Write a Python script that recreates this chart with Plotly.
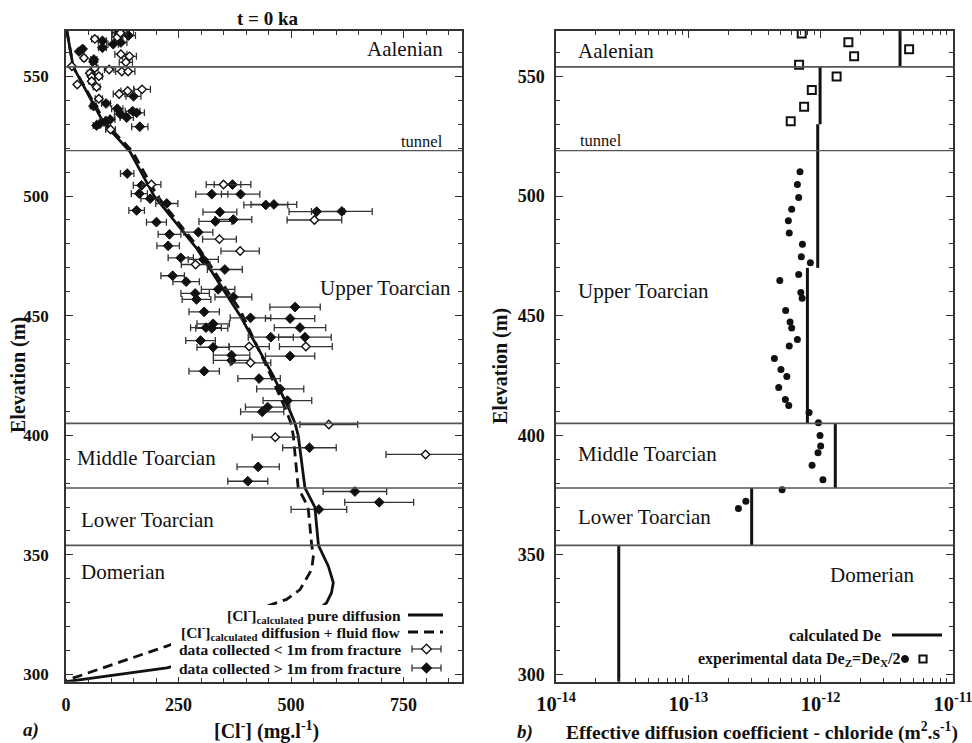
import plotly.graph_objects as go

# ---------------- data ----------------
# Left panel: chloride profiles (mg/l) vs elevation (m)
pure_conc = [2, 16, 84, 142, 196, 291, 387, 460, 498, 509, 516, 531, 553, 561, 583, 594, 590, 579, 568, 470, 330, 224, 0]
pure_elev = [569, 554, 530.5, 518.6, 500, 478, 450, 425, 410, 405, 400, 378, 370, 354, 345.3, 338.4, 334.2, 330, 328.3, 318, 308, 302.8, 297]
flow_conc = [2, 16, 88, 148, 203, 296, 388, 455, 490, 500, 505, 516, 538, 546, 550, 546, 520, 490, 446, 350, 224, 0]
flow_elev = [569, 554, 530.5, 518.6, 500, 478, 452, 425, 410, 405, 400, 378, 370, 354, 350, 343.9, 335.5, 331.4, 328.6, 321, 311.9, 297.5]

near_conc = [64, 114, 121, 122, 141, 133, 40, 13, 96, 124, 138, 64, 53, 57, 73, 57, 68, 25, 118, 137, 169, 73, 99,
             190, 350, 552, 341, 387, 288, 407, 533, 410, 584, 465, 799]
near_elev = [565.7, 566.4, 568.2, 559.3, 558.4, 555.9, 557.7, 554.3, 552.9, 552.1, 552.1, 553.5, 551.3, 549.9, 550.1, 548, 545.6, 546.6, 542.7, 543.9, 544.6, 540.7, 527.8,
             504.8, 504.8, 490, 482, 477, 471.4, 437.1, 437.1, 430.3, 404.5, 399.2, 392]

far_conc = [116, 139, 81, 81, 105, 122, 37, 29, 62, 61, 150, 61, 89, 114, 121, 135, 148, 157, 68, 76, 89, 98, 164,
            136, 168, 163, 187, 224, 157, 201, 230, 227, 255, 305, 237, 294, 370, 324, 388, 444, 462, 557, 613, 342, 332, 372,
            353, 267, 338, 287, 290, 372, 307, 509, 410, 498, 327, 311, 324, 520, 455, 531, 299, 327, 368, 368, 498, 307,
            429, 476, 492, 448, 436, 541, 427, 404, 642, 696, 562]
far_elev = [568.3, 567.1, 564.9, 562, 563.5, 564.2, 561.5, 560.4, 557.1, 556.2, 541.7, 537.6, 538.7, 536.5, 534.2, 532.8, 535.5, 534.8, 529.5, 530.4, 531.3, 532, 529,
            509.4, 504.5, 501, 498.9, 496.9, 494, 489.1, 484, 479.2, 474.2, 473.5, 466.7, 484.9, 504.8, 500.8, 500.8, 496.3, 496.5, 493.5, 493.6, 493.3, 489.4, 490.2,
            469.3, 464.2, 461, 459.3, 456.8, 457.8, 451.6, 453.6, 449.1, 448.8, 446.6, 445, 444.7, 445, 441, 441, 439.6, 436.8, 433.5, 431.3, 433.1, 426.8,
            423.7, 419.4, 414.5, 411.8, 409.8, 394.8, 386.8, 380.8, 376.5, 372, 369]
err_percent = 11

# Right panel: effective diffusion coefficient (m2/s)
de_top = [569, 554, 530, 470, 405, 378, 354]
de_bot = [554, 530, 470, 405, 378, 354, 297]
de_calc = [3.98e-12, 9.9e-13, 9.5e-13, 7.94e-13, 1.29e-12, 3.01e-13, 2.98e-14]

sq_de = [7.19e-13, 1.62e-12, 1.79e-12, 4.66e-12, 6.87e-13, 1.32e-12, 8.57e-13, 7.5e-13, 5.94e-13]
sq_elev = [568, 564.3, 558.4, 561.4, 554.9, 550, 544.3, 537.3, 531.3]

dot_de = [6.98e-13, 6.67e-13, 6.82e-13, 6.04e-13, 5.70e-13, 5.79e-13, 7.28e-13, 7.14e-13, 8.36e-13, 6.82e-13,
          4.91e-13, 7.08e-13, 7.24e-13, 5.44e-13, 5.87e-13, 6.04e-13, 6.67e-13, 5.79e-13, 4.47e-13, 5.01e-13,
          5.55e-13, 4.82e-13, 5.41e-13, 5.74e-13, 8.17e-13, 9.62e-13, 9.89e-13, 1.0e-12, 9.55e-13, 8.61e-13,
          1.04e-12, 5.11e-13, 2.72e-13, 2.39e-13]
dot_elev = [510.2, 504.8, 499.4, 494.5, 489.7, 484.6, 479.9, 474.6, 472.1, 467.2,
            464.7, 459.7, 457.3, 452.2, 447.4, 444.9, 440.0, 437.3, 432.1, 427.5,
            424.6, 420.0, 415.0, 412.5, 409.5, 405.2, 399.9, 395.5, 392.7, 387.5,
            381.4, 377.2, 372.4, 369.4]

boundaries = [554, 519, 405, 378, 354]

x1_ticks = [0, 250, 500, 750]
x2_ticks = [1e-14, 1e-13, 1e-12, 1e-11]
x2_ticktext = ["10<sup>-14</sup>", "10<sup>-13</sup>", "10<sup>-12</sup>", "10<sup>-11</sup>"]

# ---------------- figure ----------------
W, H = 972, 743
def PX(x):
    return x / W
def PY(y):
    return 1 - y / H

FONT = "Liberation Serif, Times New Roman, serif"
INK = "#111111"
AX = "#333333"

fig = go.Figure()

# curves (left)
fig.add_trace(go.Scatter(x=pure_conc, y=pure_elev, mode="lines", line=dict(color=INK, width=2.8),
                         xaxis="x", yaxis="y", hoverinfo="skip"))
fig.add_trace(go.Scatter(x=flow_conc, y=flow_elev, mode="lines", line=dict(color=INK, width=2.8, dash="10px,6px"),
                         xaxis="x", yaxis="y", hoverinfo="skip"))
# data points (left)
errstyle = dict(type="percent", value=err_percent, color="#333333", thickness=1.3, width=3.5)
fig.add_trace(go.Scatter(x=far_conc, y=far_elev, mode="markers", xaxis="x", yaxis="y",
                         marker=dict(symbol="diamond", size=7.5, color=INK, line=dict(color=INK, width=1)),
                         error_x=errstyle))
fig.add_trace(go.Scatter(x=near_conc, y=near_elev, mode="markers", xaxis="x", yaxis="y",
                         marker=dict(symbol="diamond", size=6.5, color="white", line=dict(color=INK, width=1.4)),
                         error_x=errstyle))

# right panel step line
step_x, step_y = [], []
for v, t, b in zip(de_calc, de_top, de_bot):
    step_x += [v, v, None]
    step_y += [t, b, None]
fig.add_trace(go.Scatter(x=step_x, y=step_y, mode="lines", line=dict(color=INK, width=3),
                         xaxis="x2", yaxis="y2", connectgaps=False))
fig.add_trace(go.Scatter(x=dot_de, y=dot_elev, mode="markers", xaxis="x2", yaxis="y2",
                         marker=dict(symbol="circle", size=7, color=INK)))
fig.add_trace(go.Scatter(x=sq_de, y=sq_elev, mode="markers", xaxis="x2", yaxis="y2",
                         marker=dict(symbol="square-open", size=8, color=INK, line=dict(width=2))))

ydom = [PY(681.7), PY(31)]
axcommon = dict(showgrid=False, zeroline=False, showline=True, linecolor=AX, linewidth=1.5,
                mirror="allticks", ticks="inside", ticklen=7, tickwidth=1.3, tickcolor=AX,
                automargin=False, ticklabeloverflow="allow")
tickfont = dict(family=FONT, size=18, color=INK, weight="bold")

fig.update_layout(
    width=W, height=H, margin=dict(l=0, r=0, t=0, b=0, pad=0, autoexpand=False),
    paper_bgcolor="white", plot_bgcolor="white", showlegend=False,
    xaxis=dict(domain=[PX(66), PX(462)], range=[0, 880], anchor="y", tickvals=x1_ticks,
               tickfont=tickfont, ticklabelstandoff=6,
               minor=dict(ticks="inside", ticklen=4, tickcolor=AX, dtick=50, tick0=0), **axcommon),
    yaxis=dict(domain=ydom, range=[297, 569], anchor="x", tick0=300, dtick=50,
               tickfont=dict(family=FONT, size=17, color=INK, weight="bold"), ticklabelstandoff=12,
               minor=dict(ticks="inside", ticklen=4, tickcolor=AX, dtick=10, tick0=300), **axcommon),
    xaxis2=dict(domain=[PX(556), PX(953)], type="log", range=[-14, -11], anchor="y2",
                tickvals=x2_ticks, ticktext=x2_ticktext,
                tickfont=dict(family=FONT, size=20.5, color=INK, weight="bold"), ticklabelstandoff=3,
                minor=dict(ticks="inside", ticklen=4, tickcolor=AX,
                           tickvals=[m * 10.0 ** e for e in (-14, -13, -12) for m in range(2, 10)]),
                **axcommon),
    yaxis2=dict(domain=ydom, range=[297, 569], anchor="x2", tick0=300, dtick=50,
                tickfont=tickfont, ticklabelstandoff=6,
                minor=dict(ticks="inside", ticklen=4, tickcolor=AX, dtick=10, tick0=300), **axcommon),
)

shapes = []
for xa, ya in (("x", "y"), ("x2", "y2")):
    for b in boundaries:
        shapes.append(dict(type="line", xref=xa + " domain", yref=ya, x0=0, x1=1, y0=b, y1=b,
                           line=dict(color="#555555", width=1.2 if b == 519 else 1.6), layer="above"))

# left legend white background
shapes.append(dict(type="rect", xref="paper", yref="paper", x0=PX(171), x1=PX(447), y0=PY(677), y1=PY(605),
                   fillcolor="white", line=dict(width=0), layer="above"))
# left legend samples
shapes.append(dict(type="line", xref="paper", yref="paper", x0=PX(408), x1=PX(443), y0=PY(615), y1=PY(615),
                   line=dict(color=INK, width=3), layer="above"))
shapes.append(dict(type="line", xref="paper", yref="paper", x0=PX(408), x1=PX(443), y0=PY(632), y1=PY(632),
                   line=dict(color=INK, width=3, dash="10px,6px"), layer="above"))
for yy, fill in ((649, "white"), (668, INK)):
    shapes.append(dict(type="line", xref="paper", yref="paper", x0=PX(412), x1=PX(441), y0=PY(yy), y1=PY(yy),
                       line=dict(color="#333333", width=1.3), layer="above"))
    for xx in (412, 441):
        shapes.append(dict(type="line", xref="paper", yref="paper", x0=PX(xx), x1=PX(xx),
                           y0=PY(yy + 3.5), y1=PY(yy - 3.5), line=dict(color="#333333", width=1.3), layer="above"))
    shapes.append(dict(type="path", xref="paper", yref="paper", xsizemode="pixel", ysizemode="pixel",
                       xanchor=PX(426.5), yanchor=PY(yy), path="M -4.8,0 L 0,4.8 L 4.8,0 L 0,-4.8 Z",
                       fillcolor=fill, line=dict(color=INK, width=1.3), layer="above"))
# right legend samples
shapes.append(dict(type="line", xref="paper", yref="paper", x0=PX(892), x1=PX(942), y0=PY(635), y1=PY(635),
                   line=dict(color=INK, width=3), layer="above"))
shapes.append(dict(type="circle", xref="paper", yref="paper", xsizemode="pixel", ysizemode="pixel",
                   xanchor=PX(905), yanchor=PY(659), x0=-3.5, x1=3.5, y0=-3.5, y1=3.5,
                   fillcolor=INK, line=dict(color=INK, width=1), layer="above"))
shapes.append(dict(type="rect", xref="paper", yref="paper", xsizemode="pixel", ysizemode="pixel",
                   xanchor=PX(923), yanchor=PY(659), x0=-3.6, x1=3.6, y0=-3.6, y1=3.6,
                   fillcolor="white", line=dict(color=INK, width=2), layer="above"))
fig.update_layout(shapes=shapes)

ann = []
def text(x, y, s, size, xanchor="center", bold=True, italic=False, angle=0, xref="paper", yref="paper"):
    ann.append(dict(x=x, y=y, xref=xref, yref=yref, text=s, showarrow=False, xanchor=xanchor, yanchor="middle",
                    textangle=angle,
                    font=dict(family=FONT, size=size, color=INK, weight="bold" if bold else "normal",
                              style="italic" if italic else "normal")))

# titles
text(PX(267), PY(19), "t = 0 ka", 19)
text(PX(266), PY(730), "[Cl<sup>-</sup>] (mg.l<sup>-1</sup>)", 20)
text(PX(762), PY(731), "Effective diffusion coefficient - chloride (m<sup>2</sup>.s<sup>-1</sup>)", 19.5)
text(PX(18), PY(375), "Elevation (m)", 20, angle=-90)
text(PX(500), PY(366), "Elevation (m)", 20, angle=-90)
text(PX(31), PY(730), "a)", 19, italic=True)
text(PX(525), PY(732), "b)", 19, italic=True)

# region labels, left panel
text(0.957, 561.3, "Aalenian", 21, "right", False, xref="x domain", yref="y")
text(0.957, 522.8, "tunnel", 16.5, "right", False, xref="x domain", yref="y")
text(0.977, 461.4, "Upper Toarcian", 21, "right", False, xref="x domain", yref="y")
text(0.022, 390.7, "Middle Toarcian", 21, "left", False, xref="x domain", yref="y")
text(0.032, 364.8, "Lower Toarcian", 21, "left", False, xref="x domain", yref="y")
text(0.032, 342.8, "Domerian", 21, "left", False, xref="x domain", yref="y")
# region labels, right panel
text(0.05, 560.6, "Aalenian", 21, "left", False, xref="x2 domain", yref="y2")
text(0.056, 523.4, "tunnel", 16.5, "left", False, xref="x2 domain", yref="y2")
text(0.05, 460.2, "Upper Toarcian", 21, "left", False, xref="x2 domain", yref="y2")
text(0.05, 392.0, "Middle Toarcian", 21, "left", False, xref="x2 domain", yref="y2")
text(0.05, 366.0, "Lower Toarcian", 21, "left", False, xref="x2 domain", yref="y2")
text(0.907, 341.8, "Domerian", 21, "right", False, xref="x2 domain", yref="y2")

# legend texts
text(PX(403), PY(615), "[Cl<sup>-</sup>]<sub>calculated</sub> pure diffusion", 15.5, "right")
text(PX(403), PY(632), "[Cl<sup>-</sup>]<sub>calculated</sub> diffusion + fluid flow", 15.5, "right")
text(PX(403), PY(649.5), "data collected &lt; 1m from fracture", 15.5, "right")
text(PX(403), PY(668), "data collected &gt; 1m from fracture", 15.5, "right")
text(PX(883), PY(635), "calculated De", 16, "right")
text(PX(902), PY(659), "experimental data De<sub>Z</sub>=De<sub>X</sub>/2", 16, "right")

fig.update_layout(annotations=ann)
fig.write_html("out.html")
